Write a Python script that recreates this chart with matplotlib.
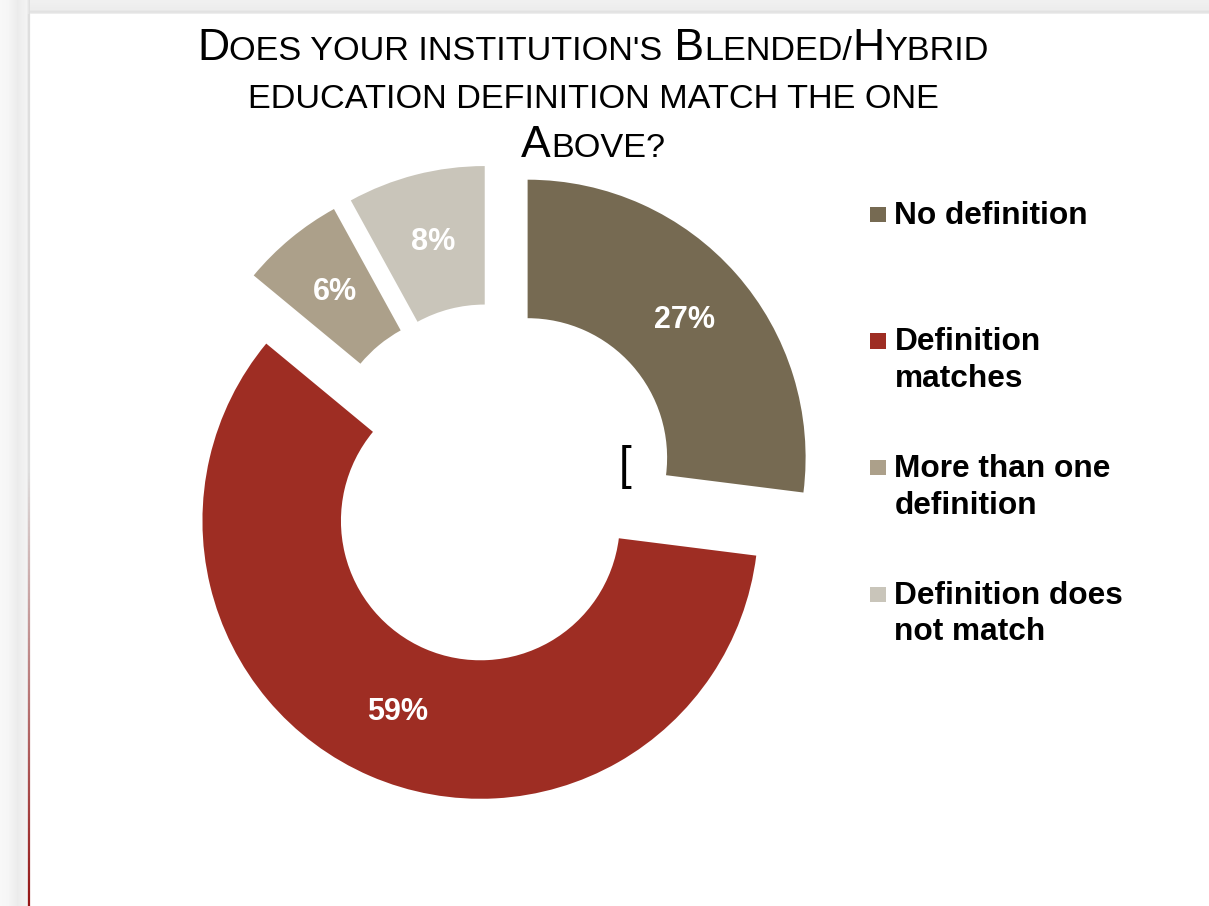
import numpy as np
import matplotlib
matplotlib.use("Agg")
import matplotlib.pyplot as plt
from matplotlib.patches import Rectangle
from matplotlib.collections import LineCollection

# ---- data -------------------------------------------------------------
categories = ["No definition", "Definition\nmatches", "More than one\ndefinition",
              "Definition does\nnot match"]
shares = [27, 59, 6, 8]
colors = ["#766a52", "#9e2d23", "#aca08a", "#c9c5ba"]
title_lines = [
    [("D", True), ("OES YOUR INSTITUTION'S", False), (" B", True), ("LENDED/", False),
     ("H", True), ("YBRID", False)],
    [("EDUCATION DEFINITION MATCH THE ONE", False)],
    [("A", True), ("BOVE?", False)],
]

W, H = 1209, 906
fig = plt.figure(figsize=(W / 100, H / 100), dpi=100)
fig.patch.set_facecolor("#f3f3f3")
ax = fig.add_axes([0, 0, 1, 1])


def Y(y):
    """screen-style y (from top) -> data y"""
    return H - y


sans = "Liberation Sans"

# ---- slide background -------------------------------------------------
xs = np.arange(0, 30)
prof = np.interp(xs, [0, 8, 17, 26, 29], [0.975, 0.965, 0.925, 0.955, 0.88])
band = np.repeat(prof[None, :, None], 3, axis=2)
ax.imshow(band, extent=(0, 30, 0, H), aspect="auto", zorder=0, interpolation="bilinear")
ys = np.arange(0, 14)
tprof = np.interp(ys, [0, 9, 11.5, 13], [0.945, 0.93, 0.88, 0.93])
tband = np.repeat(tprof[:, None, None], 3, axis=2)
ax.imshow(tband, extent=(30, W, Y(14), H), aspect="auto", zorder=0, interpolation="bilinear")
ax.add_patch(Rectangle((30, 0), W - 30, Y(14), facecolor="white", edgecolor="none", zorder=0.5))

# left rule fading into dark red toward the bottom
yy = np.linspace(14, H, 300)
segs = [[(29.2, Y(a)), (29.2, Y(b))] for a, b in zip(yy[:-1], yy[1:])]
t = np.clip((yy[:-1] - 470) / (H - 470), 0, 1)
grey = np.array([0.87, 0.87, 0.87])
red = np.array([0.58, 0.08, 0.08])
cols = [tuple((1 - v) * grey + v * red) for v in t]
ax.add_collection(LineCollection(segs, colors=cols, linewidths=1.6, zorder=1))

# ---- donut ------------------------------------------------------------
R = 278
explode_px = [42.8, 37.9, 43.3, 43.3]
wedges, _, autotexts = ax.pie(
    shares, colors=colors, startangle=90, counterclock=False, radius=R,
    center=(495.5, Y(486)), explode=explode_px,
    wedgeprops=dict(width=138.5, linewidth=0),
    autopct=lambda p: f"{p:.0f}%", pctdistance=0.75,
    textprops=dict(color="white", fontweight="bold", fontsize=22, family=sans),
)
for w in wedges:
    w.set_zorder(2)
for tx in autotexts:
    tx.set_zorder(3)

ax.set_xlim(0, W)
ax.set_ylim(0, H)
ax.set_aspect("auto")
ax.axis("off")

# stray bracket on the slide
ax.text(625, Y(467), "[", fontsize=33, family=sans, color="black",
        ha="center", va="center", zorder=3)

# ---- legend -----------------------------------------------------------
for i, (lab, c) in enumerate(zip(categories, colors)):
    base = 223.5 + 126.7 * i
    ax.add_patch(Rectangle((870, Y(base - 1.5)), 16, 15.5, facecolor=c,
                           edgecolor="none", zorder=3))
    for k, line in enumerate(lab.split("\n")):
        ax.text(894.5, Y(base + 36.7 * k), line, fontsize=22.8, fontweight="bold",
                family=sans, color="black", ha="left", va="baseline", zorder=3)

# ---- small-caps title -------------------------------------------------
big_size, small_size = 32, 24.7
baselines = [60, 108, 157]
centre_x = 593
renderer = fig.canvas.get_renderer()
for runs, b in zip(title_lines, baselines):
    objs = []
    x = 0.0
    for txt, is_big in runs:
        o = ax.text(0, Y(b), txt, fontsize=big_size if is_big else small_size,
                    family=sans, color="black", ha="left", va="baseline", zorder=3)
        ext = o.get_window_extent(renderer)
        objs.append((o, x))
        x += ext.width
    start = centre_x - x / 2
    for o, off in objs:
        o.set_x(start + off)

fig.savefig("out.png", dpi=100, facecolor=fig.get_facecolor())
